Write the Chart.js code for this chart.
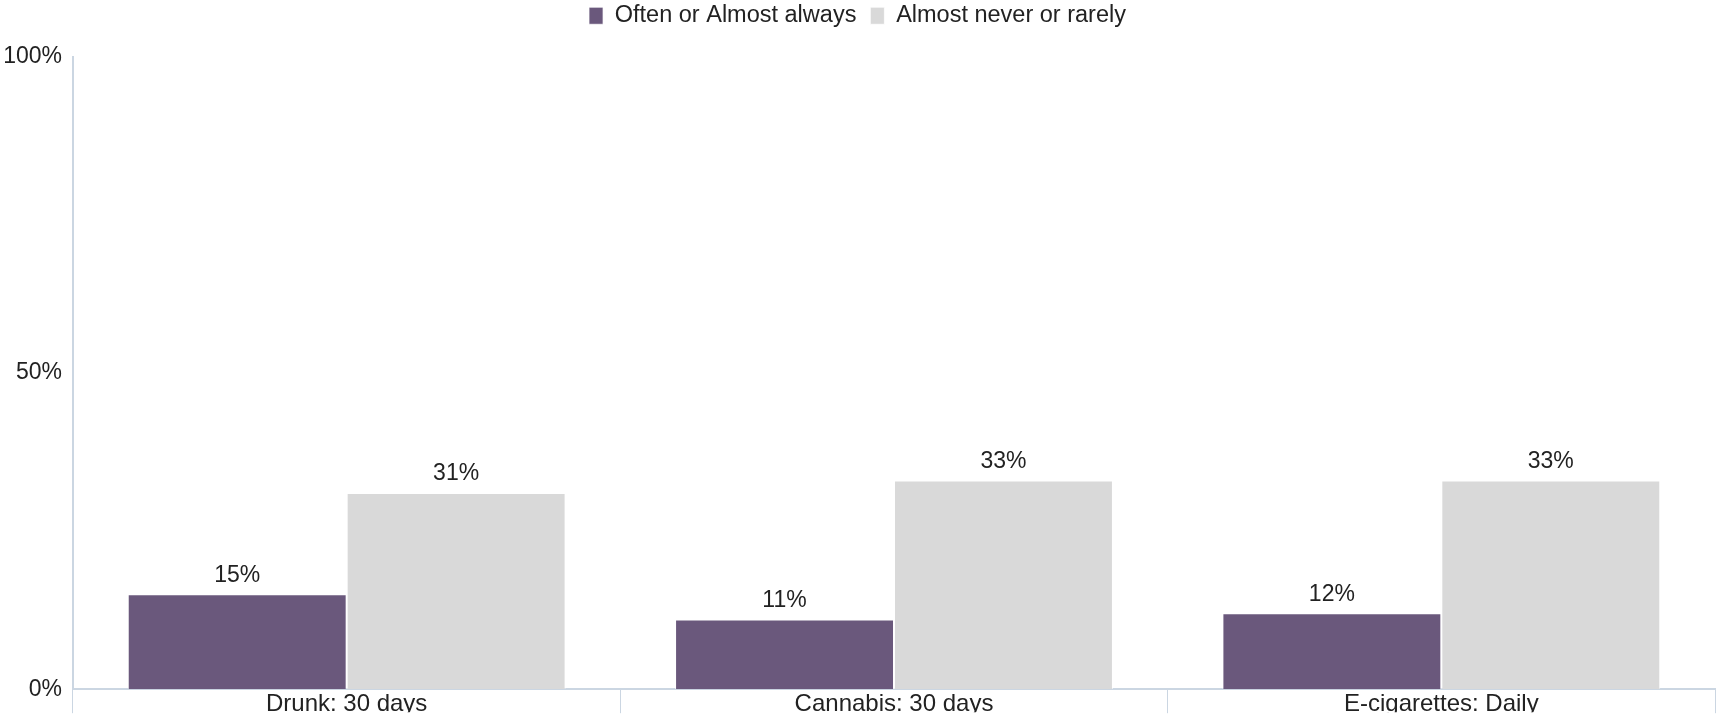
<!DOCTYPE html>
<html>
<head>
<meta charset="utf-8">
<script src="https://cdn.jsdelivr.net/npm/chart.js@4"></script>
<style>
  html, body { margin: 0; padding: 0; background: #fff; }
  canvas { display: block; }
</style>
</head>
<body>
<canvas id="bars" width="1717" height="714"></canvas>
<script>
const categories = ["Drunk: 30 days", "Cannabis: 30 days", "E-cigarettes: Daily"];
const seriesNames = ["Often or Almost always", "Almost never or rarely"];
const oftenValues = [15, 11, 12];
const rarelyValues = [31, 33, 33];
const yTicks = [0, 50, 100];

Chart.defaults.font.family = "'Liberation Sans', Arial, sans-serif";
Chart.defaults.font.size = 23;
Chart.defaults.color = "#222";

const axisColor = "#cbd6e2";

// value labels above each bar
const barLabels = {
  id: 'barLabels',
  afterDatasetsDraw(chart) {
    const ctx = chart.ctx;
    ctx.save();
    ctx.font = "23px 'Liberation Sans', Arial, sans-serif";
    ctx.fillStyle = "#222";
    ctx.textAlign = 'center';
    ctx.textBaseline = 'middle';
    chart.data.datasets.forEach((ds, i) => {
      chart.getDatasetMeta(i).data.forEach((bar, j) => {
        ctx.fillText(ds.data[j] + '%', bar.x, bar.y - 19);
      });
    });
    ctx.restore();
  }
};

// extra room under the legend
const legendGap = {
  id: 'legendGap',
  beforeInit(chart) {
    const fit = chart.legend.fit;
    chart.legend.fit = function () {
      fit.bind(chart.legend)();
      this.height += 19;
    };
  }
};

new Chart(document.getElementById("bars"), {
  type: 'bar',
  data: {
    labels: categories,
    datasets: [
      {
        label: seriesNames[0],
        data: oftenValues,
        backgroundColor: "#6a587c",
        borderColor: "rgba(255,255,255,0.7)",
        borderWidth: 1
      },
      {
        label: seriesNames[1],
        data: rarelyValues,
        backgroundColor: "#d9d9d9",
        borderColor: "rgba(255,255,255,0.7)",
        borderWidth: 1
      }
    ]
  },
  options: {
    responsive: false,
    animation: false,
    layout: { padding: { top: -10, right: 2 } },
    datasets: {
      bar: { categoryPercentage: 0.8, barPercentage: 1.0 }
    },
    scales: {
      x: {
        grid: {
          display: true,
          drawOnChartArea: false,
          drawTicks: true,
          tickLength: 24,
          color: axisColor
        },
        border: { display: true, color: axisColor, width: 2 },
        ticks: { padding: -23, font: { size: 24 }, color: "#222" },
        afterFit(scale) { scale.height = 23; }
      },
      y: {
        min: 0,
        max: 100,
        afterBuildTicks(scale) {
          scale.ticks = yTicks.map(v => ({ value: v }));
        },
        grid: { display: false, drawTicks: false },
        border: { display: true, color: axisColor, width: 2 },
        ticks: {
          padding: 11,
          color: "#222",
          callback: v => v + '%'
        },
        afterFit(scale) { scale.width = 73; }
      }
    },
    plugins: {
      legend: {
        position: 'top',
        labels: {
          boxWidth: 14,
          boxHeight: 17,
          padding: 14,
          font: { size: 23.5 },
          color: "#222"
        }
      },
      tooltip: { enabled: false }
    }
  },
  plugins: [barLabels, legendGap]
});
</script>
</body>
</html>
